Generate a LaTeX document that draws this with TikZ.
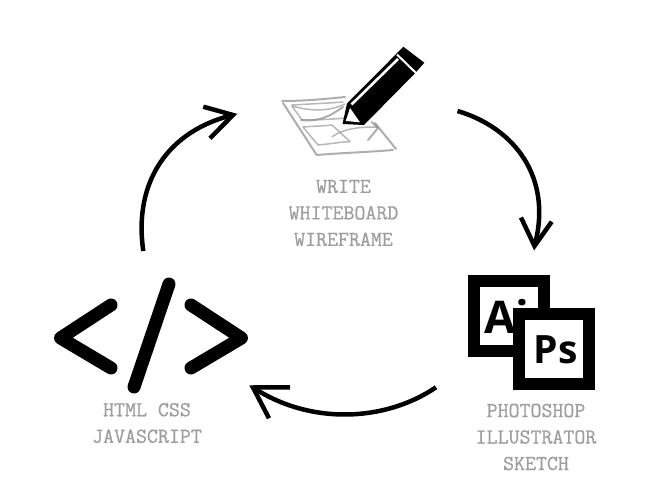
\documentclass[tikz,border=0pt]{standalone}
\usepackage{fontspec}
\newfontfamily\iconfont{Open Sans Bold}
\newfontfamily\capfont{Latin Modern Mono}[RawFeature={embolden=0.7}]
\tikzset{
  caption/.style={text=black!38,font=\capfont\fontsize{21.3}{26.5}\selectfont,align=center,inner sep=0pt,anchor=center},
  flow/.style={line width=4.5pt,line cap=butt,miter limit=10},
  codestroke/.style={line width=13pt,line cap=round,line join=round,black},
  frame/.style={fill=white,draw=black,line width=12pt,minimum size=70pt,inner sep=0pt},
  sketch/.style={draw=black!45,line width=2pt,opacity=.7,line cap=round,line join=round},
  sketchthin/.style={draw=black!40,line width=1.5pt,opacity=.7,line cap=round,line join=round},
  icontext/.style={font=\iconfont\fontsize{45}{45}\selectfont,inner sep=0pt,text=black}
}
\begin{document}
\begin{tikzpicture}[x=1pt,y=-1pt]
\useasboundingbox (0,0) rectangle (658,503);
\fill[white] (0,0) rectangle (658,503);
% sketch sheet
\draw[sketch] (282,101) .. controls (305,101) and (325,99) .. (345,97);
\draw[sketch] (283,103) -- (316.7,155) .. controls (340,153) and (370,152) .. (393,150);
\draw[sketch] (375,123) -- (396,149);
\draw[sketchthin] (292,105) .. controls (310,104) and (330,103) .. (343,102);
\draw[sketchthin] (292,106) .. controls (310,111) and (328,112) .. (345,104);
\draw[sketchthin] (292,106) -- (302,120);
\draw[sketch] (301,120) .. controls (320,122) and (330,116) .. (343,107);
\draw[sketchthin] (302,120) .. controls (320,120) and (335,119) .. (346,118);
\draw[sketchthin] (303,127) .. controls (315,126) and (325,126) .. (332,125) -- (350,141.7) .. controls (340,142) and (330,144) .. (318,145) -- cycle;
\draw[sketchthin] (332,136.7) .. controls (345,128) and (360,127) .. (377,127);
\draw[sketch] (371.7,122) -- (378,128) -- (368,140);
% pencil
\fill[black] (403.3,46.7) -- (424.3,62.7) -- (415,73.3) -- (364,125) -- (342.5,124) -- (347,103.5) -- (396.7,53.5) -- cycle;
\draw[white,line width=2.6pt] (351.5,104.5) -- (398,59);
\draw[white,line width=2pt] (397,54.5) -- (417,74);
\fill[white] (350,108) -- (345.7,121) -- (360,122.3) -- cycle;
% captions
\node[caption] (write) at (343.5,213) {WRITE\\WHITEBOARD\\WIREFRAME};
\node[caption] (design) at (536,437) {PHOTOSHOP\\ILLUSTRATOR\\SKETCH};
\node[caption] (code) at (147,423) {HTML CSS\\JAVASCRIPT};
% code icon
\draw[codestroke] (111,305) -- (60.5,338) -- (111,368);
\draw[codestroke] (169,284) -- (134,387);
\draw[codestroke] (191,305) -- (241.5,338) -- (191,368);
% app icons
\node[frame] (ai) at (509,316) {};
\node[icontext,anchor=base west] (aitext) at (484,333) {Ai};
\node[frame] (ps) at (554,349) {};
\node[icontext,font=\iconfont\fontsize{39}{39}\selectfont,anchor=base] (pstext) at (555.5,363) {Ps};
% flow arrows
\coordinate (a1) at (457.5,111);
\coordinate (b1) at (534.5,246);
\coordinate (w1a) at (521,217.5);
\coordinate (w1b) at (551.7,221.7);
\coordinate (a2) at (436,387.3);
\coordinate (b2) at (253,387.5);
\coordinate (w2a) at (290,387.3);
\coordinate (w2b) at (269,418.3);
\coordinate (a3) at (143.3,251);
\coordinate (b3) at (233,115);
\coordinate (w3a) at (203.3,106.7);
\coordinate (w3b) at (210,138.3);
\draw[flow] (a1) .. controls (515,128) and (553,178) .. (b1);
\draw[flow] (w1a) -- (b1) -- (w1b);
\draw[flow] (a2) .. controls (385,422) and (310,425) .. (b2);
\draw[flow] (w2a) -- (b2) -- (w2b);
\draw[flow] (a3) .. controls (133,180) and (170,130) .. (b3);
\draw[flow] (w3a) -- (b3) -- (w3b);
\end{tikzpicture}
\end{document}
